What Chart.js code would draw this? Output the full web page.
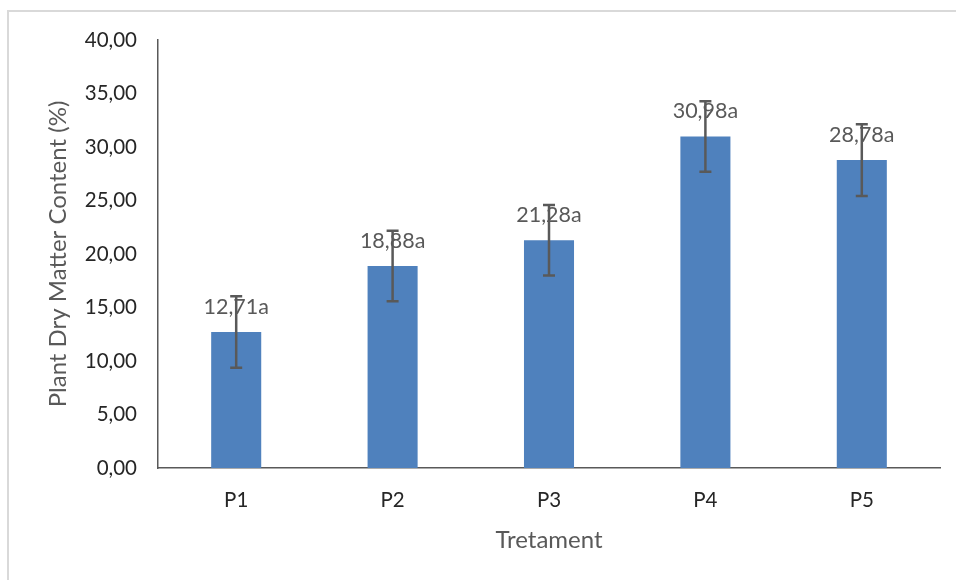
<!DOCTYPE html><html lang="en">
<head>
  <meta charset="UTF-8"/>
  <title>Plant Dry Matter Content</title>
  <script src="https://cdn.jsdelivr.net/npm/chart.js"></script>
  <style>
    *{box-sizing:border-box;margin:0;padding:0}
    html,body{width:956px;height:580px;background:#fff;overflow:hidden}
    #frame{position:absolute;left:7px;top:10px;width:1000px;height:620px;border:2px solid #d9d9d9}
    #wrap{position:absolute;left:0;top:0;width:956px;height:580px}
  </style>
</head>
<body>
  <div id="frame"></div>
  <div id="wrap"><canvas id="chart" width="956" height="580"></canvas></div>
  <script>
    // data
    const treatments = ['P1','P2','P3','P4','P5'];
    const dryMatter  = [12.71, 18.88, 21.28, 30.98, 28.78];
    const errors     = [3.35, 3.3, 3.3, 3.3, 3.35];
    const letters    = ['a','a','a','a','a'];

    const fmt = v => v.toFixed(2).replace('.', ',');

    // value labels + error bars, drawn with the chart's own scales
    const extras = {
      id:'extras',
      afterDatasetsDraw(chart){
        const ctx = chart.ctx, y = chart.scales.y;
        const bars = chart.getDatasetMeta(0).data;
        ctx.save();
        ctx.font = '21.5px Lato';
        ctx.fillStyle = '#595959';
        ctx.textAlign = 'center';
        ctx.textBaseline = 'middle';
        bars.forEach((b,i)=>{
          ctx.fillText(fmt(dryMatter[i]) + letters[i], b.x, b.y - 25);
        });
        ctx.strokeStyle = '#595959';
        ctx.lineWidth = 2.5;
        bars.forEach((b,i)=>{
          const top = y.getPixelForValue(dryMatter[i] + errors[i]);
          const bot = y.getPixelForValue(dryMatter[i] - errors[i]);
          ctx.beginPath();
          ctx.moveTo(b.x, top); ctx.lineTo(b.x, bot);
          ctx.moveTo(b.x-6, top); ctx.lineTo(b.x+6, top);
          ctx.moveTo(b.x-6, bot); ctx.lineTo(b.x+6, bot);
          ctx.stroke();
        });
        ctx.restore();
      }
    };

    new Chart(document.getElementById('chart'),{
      type:'bar',
      data:{labels:treatments,datasets:[{data:dryMatter,backgroundColor:'#4f81bd',barPercentage:0.32,categoryPercentage:1}]},
      options:{
        responsive:false,
        animation:false,
        devicePixelRatio:1,
        layout:{padding:{left:36,top:40,right:16,bottom:0}},
        plugins:{legend:{display:false},tooltip:{enabled:false}},
        scales:{
          x:{
            grid:{display:false,drawTicks:false},
            border:{display:true,color:'#595959',width:1.5},
            ticks:{color:'#262626',font:{family:'Lato',size:20.5},padding:20},
            title:{display:true,text:'Tretament',color:'#595959',font:{family:'Lato',size:24},padding:{top:0,bottom:25.6}},
            afterFit(s){ s.height = 112; }
          },
          y:{
            min:0,max:40,
            grid:{display:false,drawTicks:false},
            border:{display:true,color:'#595959',width:1.5},
            ticks:{stepSize:5,color:'#262626',font:{family:'Lato',size:20.5},padding:21,callback:v=>fmt(v)},
            title:{display:true,text:'Plant Dry Matter Content (%)',color:'#595959',font:{family:'Lato',size:24},padding:{top:7.6,bottom:0}},
            afterFit(s){ s.width = 122; }
          }
        }
      },
      plugins:[extras]
    });
  </script>
</body>
</html>
